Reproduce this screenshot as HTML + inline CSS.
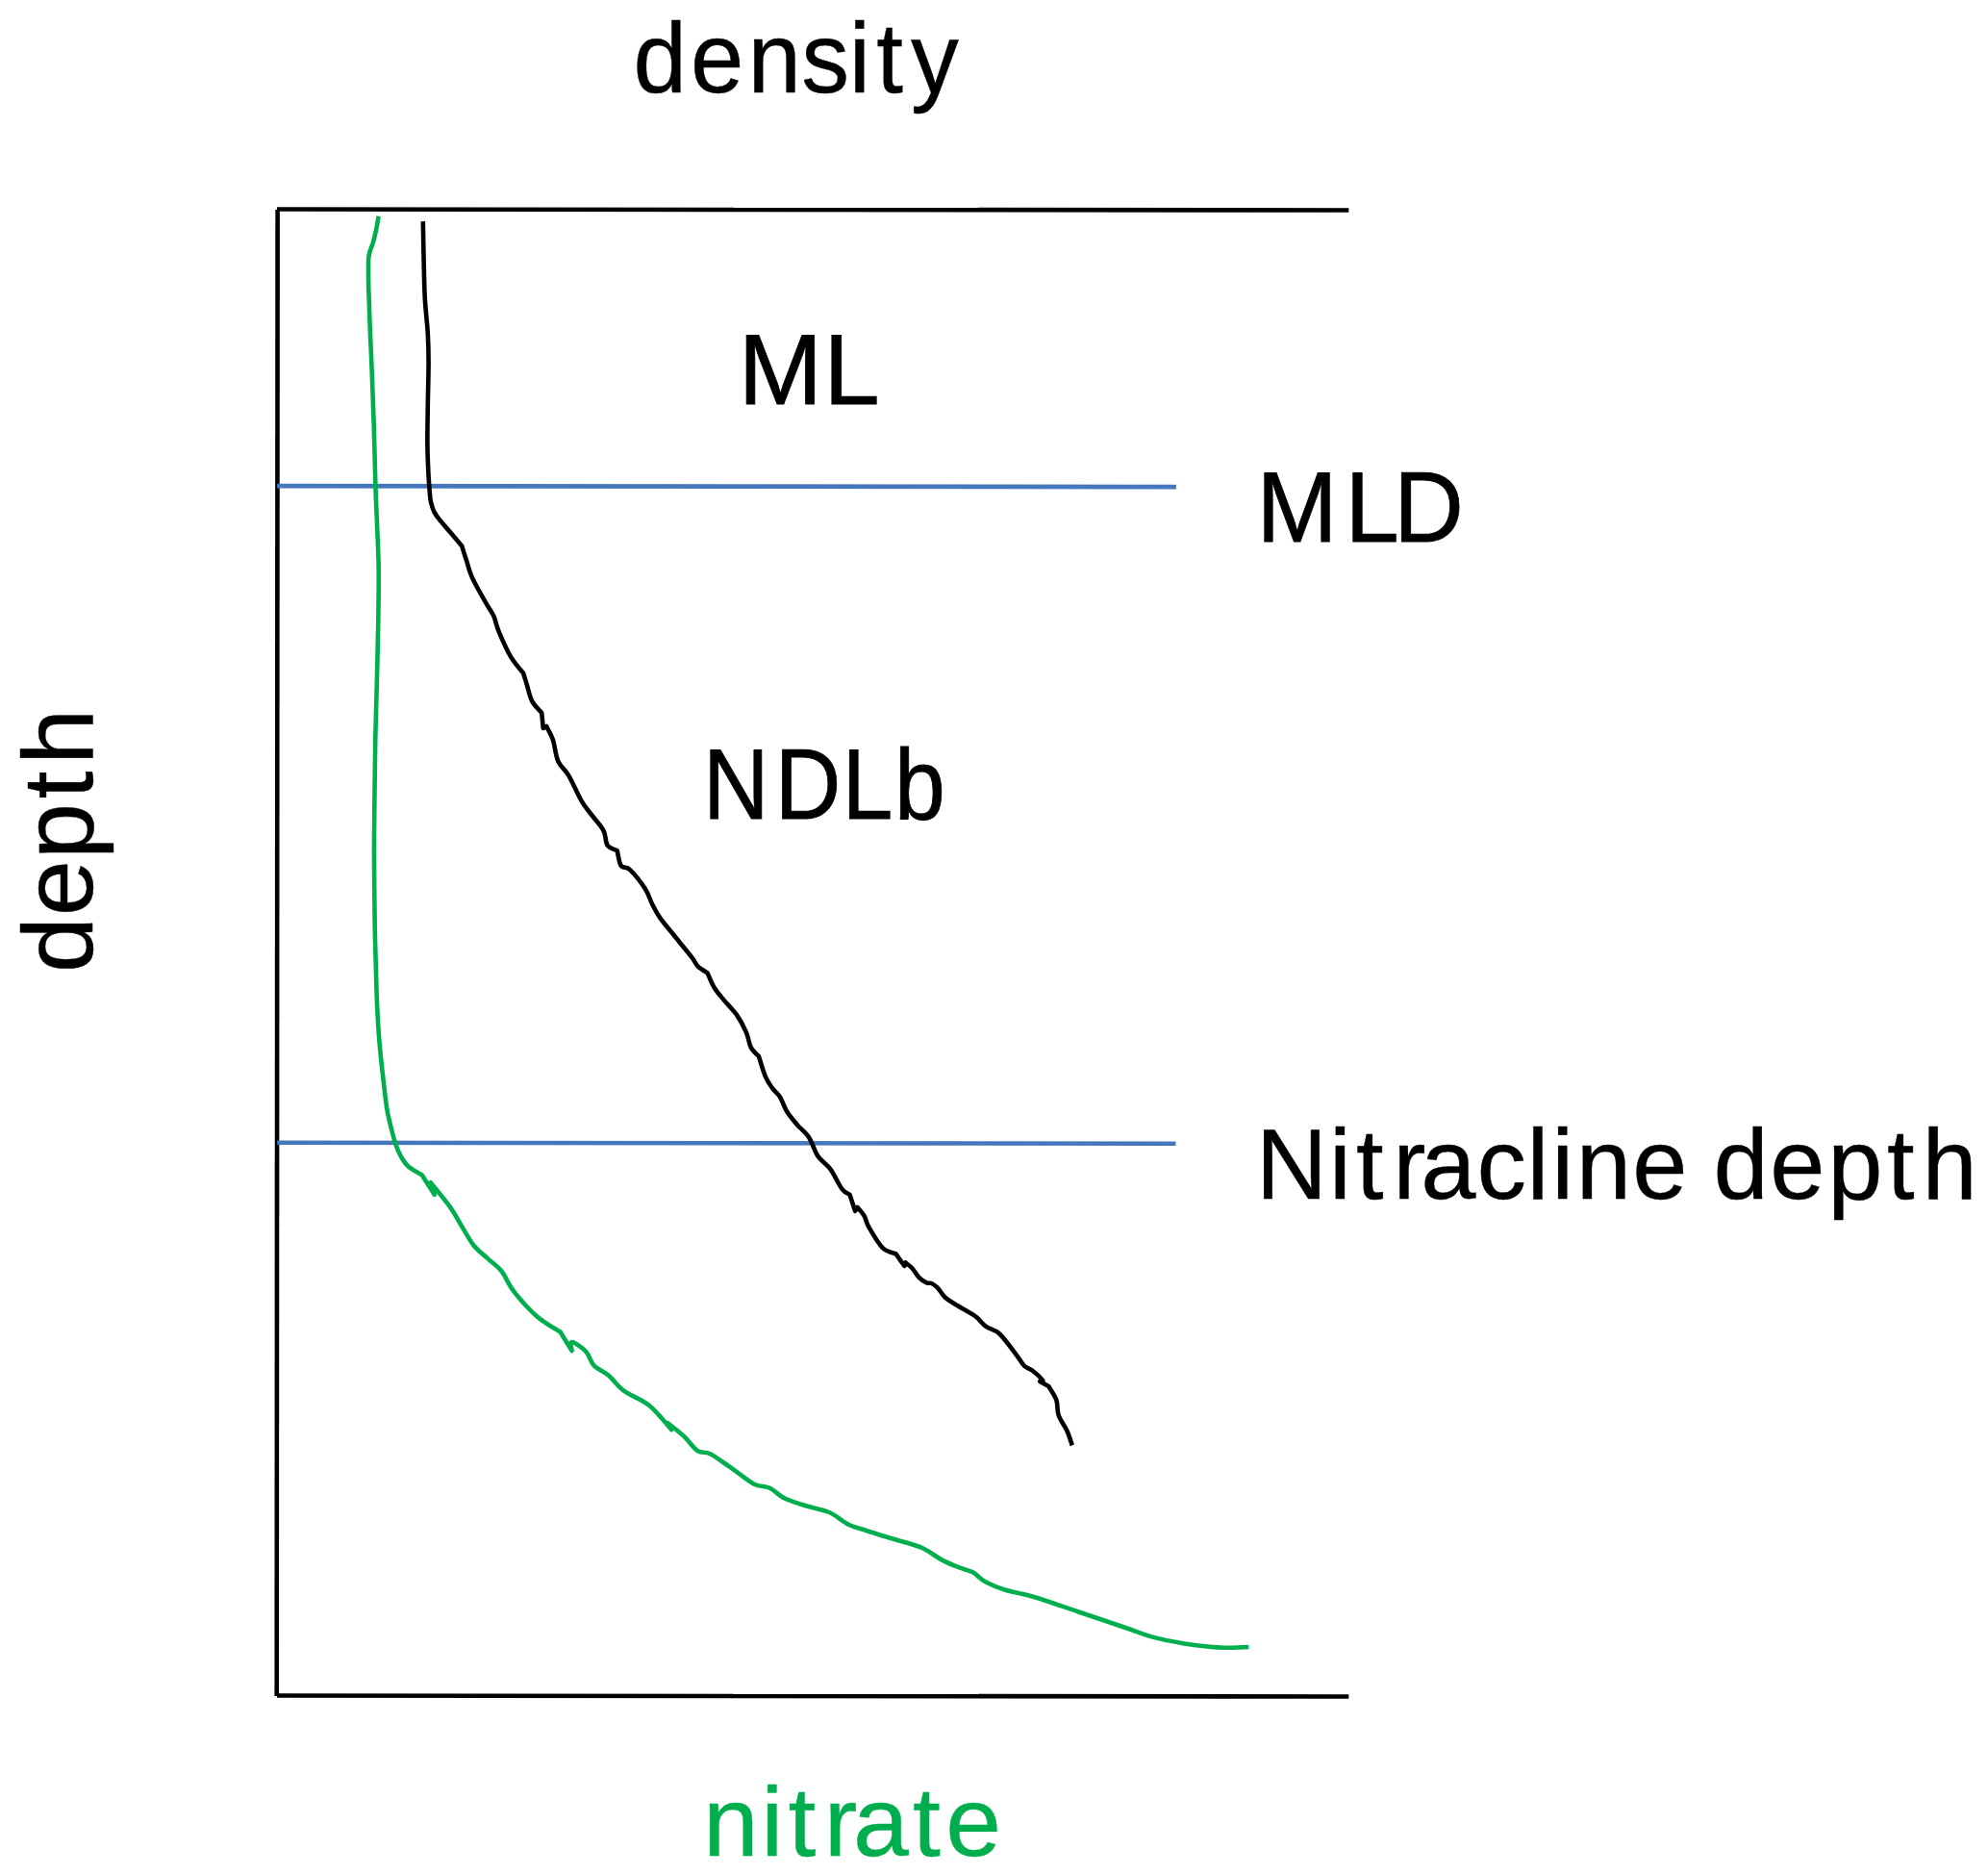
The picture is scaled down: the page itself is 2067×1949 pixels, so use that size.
<!DOCTYPE html>
<html lang="en"><head><meta charset="utf-8"><title>density / nitrate profile</title>
<style>
html,body{margin:0;padding:0;background:#fff;}
body{width:2067px;height:1949px;overflow:hidden;}
svg{display:block;}
text{font-family:"Liberation Sans",sans-serif;}
</style></head><body>
<svg width="2067" height="1949" viewBox="0 0 2067 1949">
<rect width="2067" height="1949" fill="#fff"/>
<g fill="none" stroke-width="4.6">
<path d="M288.6 218 L287.7 1763" stroke="#000"/>
<path d="M288 217.5 L1402.3 218.5" stroke="#000"/>
<path d="M288 1762.5 L1402.3 1763.5" stroke="#000"/>
<path d="M288.2 505.1 L1222.9 506.1" stroke="#4577BC"/>
<path d="M288.2 1187.8 L1222.5 1188.7" stroke="#4577BC"/>
<path d="M439.8 230.1C439.9 236.8 440.3 256.9 440.6 270.3C440.9 283.7 441.1 297.8 441.8 310.5C442.5 323.2 444.2 335.7 444.8 346.8C445.4 357.9 445.6 364.6 445.6 377.0C445.6 389.4 445.0 407.1 444.8 421.2C444.6 435.3 444.3 449.7 444.4 461.4C444.5 473.1 445.0 483.2 445.4 491.6C445.8 500.0 446.4 506.8 446.8 511.8C447.2 516.8 447.2 518.4 448.0 521.8C448.8 525.1 449.9 528.9 451.3 531.9C452.8 534.9 453.8 536.2 456.7 539.9C459.6 543.6 464.9 549.4 468.8 554.0C472.7 558.6 478.3 565.2 480.2 567.5L480.2 567.5C481.0 570.0 483.1 576.8 484.9 582.2C486.7 587.6 487.5 592.8 490.8 600.1C494.1 607.4 501.1 619.5 504.9 626.2C508.6 632.9 510.9 635.1 513.3 640.3C515.6 645.5 516.0 650.3 519.0 657.4C522.0 664.5 526.8 675.5 531.0 682.6C535.2 689.7 541.9 696.9 544.1 699.7L544.1 699.7C544.8 701.9 546.6 707.9 548.1 712.7C549.6 717.6 550.7 724.1 553.2 728.8C555.7 733.5 561.5 738.9 563.2 740.9L563.2 740.9C563.5 743.6 564.5 754.3 564.8 757.0L568.2 755.0C569.3 757.4 572.9 763.1 574.9 769.1C576.9 775.1 577.5 785.0 580.3 791.2C583.0 797.4 587.4 799.4 591.4 806.3C595.4 813.2 600.5 825.5 604.5 832.4C608.5 839.3 611.6 842.3 615.5 847.5C619.4 852.7 624.9 858.4 627.6 863.6C630.3 868.8 629.2 875.3 631.6 878.7C634.0 882.1 640.0 883.3 641.7 884.2L641.7 884.2C642.4 886.8 643.5 896.6 645.7 899.9C647.9 903.2 650.6 899.9 654.8 903.9C659.0 907.9 667.0 918.0 670.9 924.0C674.8 930.0 675.6 935.0 678.2 940.0C680.8 945.0 682.3 948.4 686.3 954.1C690.3 959.8 696.9 967.3 702.4 974.2C707.9 981.1 715.6 990.3 719.5 995.3C723.4 1000.3 722.8 1001.7 725.5 1004.4C728.2 1007.1 733.9 1010.2 735.6 1011.4L735.6 1011.4C736.8 1013.9 739.8 1021.8 742.6 1026.5C745.5 1031.2 748.8 1034.9 752.7 1039.6C756.6 1044.3 761.9 1049.2 765.8 1054.7C769.6 1060.2 773.3 1067.1 775.8 1072.8C778.3 1078.5 778.6 1084.7 780.8 1088.9C783.0 1093.1 787.5 1096.4 788.9 1097.9L788.9 1097.9C790.1 1101.4 793.5 1113.6 795.9 1119.1C798.2 1124.6 800.5 1127.6 803.0 1131.1C805.5 1134.6 808.5 1136.2 811.0 1140.2C813.5 1144.2 815.1 1150.4 818.1 1155.3C821.1 1160.2 825.2 1164.9 829.1 1169.4C833.0 1173.9 837.7 1177.0 841.2 1182.4C844.7 1187.8 846.6 1196.1 850.3 1201.6C854.0 1207.1 859.1 1209.5 863.3 1215.2C867.5 1220.9 872.0 1231.4 875.4 1235.8C878.8 1240.2 882.1 1240.8 883.5 1241.8L883.5 1241.8C884.4 1244.7 888.2 1256.1 889.1 1258.9L891.5 1254.9C892.7 1256.4 896.6 1260.4 898.6 1263.9C900.6 1267.4 900.4 1270.5 903.6 1276.0C906.8 1281.5 913.1 1292.6 917.7 1297.1C922.3 1301.6 929.0 1302.2 931.3 1303.2L931.3 1303.2C932.8 1305.3 938.9 1313.8 940.4 1315.9L941.4 1312.3C942.6 1313.3 946.0 1315.7 948.4 1318.3C950.8 1320.9 953.0 1325.4 955.5 1327.9C958.0 1330.4 961.3 1332.4 963.5 1333.4C965.7 1334.4 966.6 1333.2 968.5 1334.0C970.4 1334.8 972.2 1336.0 974.6 1338.4C977.0 1340.8 979.6 1345.7 982.6 1348.5C985.6 1351.3 987.5 1352.2 992.7 1355.5C997.9 1358.8 1008.4 1364.1 1013.8 1368.0C1019.2 1371.9 1020.7 1375.7 1024.9 1378.7C1029.1 1381.8 1033.6 1381.3 1039.0 1386.3C1044.4 1391.3 1052.8 1403.2 1057.1 1408.8C1061.4 1414.4 1062.4 1417.3 1065.1 1419.9C1067.8 1422.5 1070.0 1422.0 1073.2 1424.5C1076.4 1427.0 1082.9 1433.1 1084.2 1435.0C1085.5 1436.9 1081.7 1435.8 1081.2 1436.0L1090.3 1441.0C1091.6 1443.3 1096.6 1450.1 1098.3 1455.1C1100.0 1460.1 1098.8 1465.8 1100.7 1471.2C1102.6 1476.6 1107.1 1482.1 1109.4 1487.3C1111.8 1492.5 1113.9 1499.9 1114.8 1502.4" stroke="#000" stroke-linejoin="round"/>
<path d="M393.7 224.7C393.2 227.3 391.8 235.7 390.8 240.3C389.8 244.9 388.9 248.7 387.8 252.4C386.7 256.1 385.1 259.4 384.3 262.4C383.5 265.4 383.3 266.7 383.1 270.5C382.9 274.3 383.0 280.0 383.0 285.0C383.0 290.0 383.0 291.2 383.3 300.5C383.6 309.8 384.1 326.3 384.7 340.7C385.3 355.1 386.0 370.2 386.7 387.0C387.4 403.8 388.1 422.2 388.7 441.3C389.3 460.4 389.8 484.9 390.3 501.7C390.8 518.5 391.3 527.0 391.9 542.0C392.5 557.0 393.5 573.9 393.7 592.0C393.9 610.1 393.5 630.6 393.2 650.4C392.9 670.2 392.3 690.6 391.8 710.7C391.3 730.8 390.6 751.0 390.2 771.1C389.8 791.2 389.6 811.3 389.4 831.4C389.2 851.5 388.9 870.0 389.0 891.8C389.1 913.6 389.4 943.9 389.7 962.0C390.0 980.1 390.3 987.1 390.7 1000.2C391.1 1013.3 391.3 1027.1 391.9 1040.5C392.5 1053.9 393.2 1067.3 394.3 1080.7C395.4 1094.1 397.0 1108.9 398.4 1121.0C399.8 1133.1 400.9 1144.2 402.4 1153.2C403.9 1162.2 405.9 1169.3 407.4 1175.3C408.9 1181.3 409.9 1185.1 411.4 1189.4C412.9 1193.8 414.3 1197.6 416.5 1201.4C418.7 1205.2 420.8 1209.2 424.5 1212.5C428.2 1215.8 436.2 1219.8 438.6 1221.2L438.6 1221.2C440.8 1224.6 449.5 1238.3 451.7 1241.7L447.6 1229.2C451.1 1233.6 463.3 1248.0 468.8 1255.8C474.3 1263.6 476.8 1269.4 480.8 1275.9C484.8 1282.4 488.5 1289.6 492.9 1295.0C497.3 1300.4 502.2 1303.7 507.0 1308.1C511.8 1312.5 517.1 1315.8 521.6 1321.5C526.1 1327.2 528.1 1334.5 534.2 1342.3C540.3 1350.1 550.4 1361.4 558.4 1368.4C566.4 1375.4 578.5 1381.8 582.5 1384.5L582.5 1384.5C584.5 1387.8 592.6 1400.8 594.6 1404.0L593.0 1396.2C593.6 1396.1 593.8 1394.0 596.6 1395.6C599.4 1397.2 606.2 1401.6 609.7 1405.6C613.2 1409.6 613.9 1415.7 617.7 1419.7C621.6 1423.7 627.6 1425.4 632.8 1429.8C638.0 1434.2 641.8 1440.7 648.9 1445.9C656.0 1451.1 666.9 1454.3 675.1 1461.0C683.3 1467.7 694.4 1481.9 698.2 1486.1L694.2 1479.1C697.1 1481.4 706.1 1488.3 711.3 1493.2C716.5 1498.1 720.9 1505.2 725.4 1508.2C729.9 1511.2 732.7 1508.4 738.4 1511.3C744.1 1514.2 752.0 1520.2 759.6 1525.4C767.2 1530.6 777.0 1539.0 783.7 1542.5C790.4 1546.0 794.4 1544.0 799.8 1546.5C805.2 1549.0 809.5 1554.4 815.9 1557.5C822.3 1560.6 830.3 1562.8 838.0 1565.2C845.7 1567.6 854.8 1568.8 862.2 1572.0C869.6 1575.2 876.0 1581.6 882.3 1584.7C888.6 1587.8 892.7 1588.3 900.0 1590.7C907.3 1593.1 916.7 1596.0 926.3 1599.0C935.9 1602.0 948.8 1604.7 957.5 1608.4C966.2 1612.1 972.1 1617.6 978.6 1621.1C985.1 1624.6 991.2 1627.0 996.7 1629.2C1002.2 1631.5 1007.2 1632.1 1011.8 1634.6C1016.4 1637.1 1018.3 1640.9 1024.1 1644.0C1029.8 1647.1 1037.9 1650.4 1046.3 1653.0C1054.7 1655.6 1062.0 1656.0 1074.4 1659.7C1086.8 1663.4 1104.6 1669.8 1120.7 1675.2C1136.8 1680.6 1157.9 1687.8 1171.0 1692.3C1184.1 1696.8 1189.1 1699.2 1199.2 1701.9C1209.3 1704.6 1221.7 1706.8 1231.4 1708.4C1241.1 1710.1 1250.1 1711.1 1257.5 1711.8C1264.9 1712.5 1268.9 1712.8 1275.7 1712.8C1282.5 1712.8 1294.6 1712.1 1298.4 1712.0" stroke="#00AE4D" stroke-linejoin="round"/>
</g>
<text transform="translate(0 96.10) scale(0.9963 1.0392)" x="660.85 720.75 780.34 836.27 886.13 914.72 950.58" y="0" font-size="100" fill="#000" stroke="#000" stroke-width="0.39">density</text>
<text transform="translate(0 420.00) scale(1.0506 1.0474)" x="730.44 815.13" y="0" font-size="100" fill="#000" stroke="#000" stroke-width="0.76">ML</text>
<text transform="translate(0 563.40) scale(1.0093 1.0434)" x="1294.56 1385.53 1435.77" y="0" font-size="100" fill="#000" stroke="#000" stroke-width="0.78">MLD</text>
<text transform="translate(0 851.00) scale(0.9503 1.0414)" x="769.36 847.89 921.17 978.60" y="0" font-size="100" fill="#000" stroke="#000" stroke-width="0.80">NDLb</text>
<text transform="translate(0 1245.80) scale(1.0300 1.0392)" x="1267.76 1341.84 1368.85 1406.08 1434.13 1490.71 1541.28 1566.30 1591.12 1647.91 1703.53 1729.70 1786.66 1844.87 1904.93 1940.21" y="0" font-size="100" fill="#000" stroke="#000" stroke-width="0.39">Nitracline depth</text>
<text transform="translate(0 1929.20) scale(1.0393 1.0242)" x="703.36 761.42 788.61 824.29 853.50 913.10 946.05" y="0" font-size="100" fill="#00AE4D" stroke="#00AE4D" stroke-width="0.39">nitrate</text>
<text transform="translate(95.60 1007.10) rotate(-90) scale(1.0465 1.0392)" x="-4.01 52.34 108.96 168.74 202.77" y="0" font-size="100" fill="#000" stroke="#000" stroke-width="0.38">depth</text>
</svg>
</body></html>
